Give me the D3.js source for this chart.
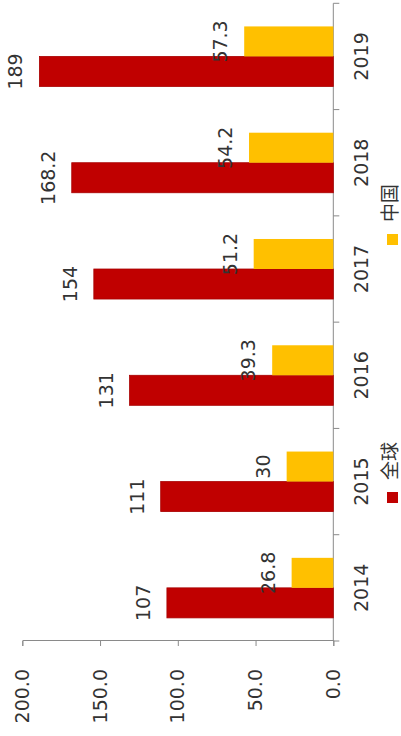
<!DOCTYPE html>
<html>
<head>
<meta charset="utf-8">
<script src="https://cdn.jsdelivr.net/npm/d3@7"></script>
<style>
  html, body { margin: 0; padding: 0; background: #fff; }
  svg { display: block; }
  text { font-family: "DejaVu Sans", sans-serif; fill: #333; }
  .cjk { font-family: "Noto Sans CJK SC", "DejaVu Sans", sans-serif; }
</style>
</head>
<body>
<script>
// Annual values, global vs. China
const years = ["2014", "2015", "2016", "2017", "2018", "2019"];
const globalValues = [107, 111, 131, 154, 168.2, 189];
const chinaValues = [26.8, 30, 39.3, 51.2, 54.2, 57.3];
const seriesNames = ["全球", "中国"];
const seriesColors = ["#c00000", "#ffc000"];
const valueTicks = [0, 50, 100, 150, 200];

const W = 401, H = 736;
const svg = d3.select("body").append("svg").attr("width", W).attr("height", H);

// The chart is laid out as an ordinary column chart (width H, height W)
// and then turned a quarter turn counter-clockwise.
const g = svg.append("g").attr("transform", `translate(0,${H}) rotate(-90)`);

const x0 = d3.scaleBand().domain(years).range([95, 732.7]).padding(0);
const x1 = d3.scaleBand().domain(seriesNames).range([0, x0.bandwidth()]).paddingInner(0).paddingOuter(0.77);
const y = d3.scaleLinear().domain([0, 200]).range([333.3, 22.3]);

const axisColor = "#8a8a8a";

// value axis
const yAxis = g.append("g")
  .attr("transform", `translate(${x0.range()[0]},0)`)
  .call(d3.axisLeft(y).tickValues(valueTicks).tickFormat(d3.format(".1f")).tickSize(5).tickPadding(23));
yAxis.selectAll("path, line").attr("stroke", axisColor);
yAxis.selectAll("text").attr("font-size", 19).attr("font-family", "DejaVu Sans").attr("fill", "#333");

// category axis: line with ticks at band boundaries
const catAxis = g.append("g");
catAxis.append("line")
  .attr("x1", x0.range()[0]).attr("x2", x0.range()[1])
  .attr("y1", y(0)).attr("y2", y(0))
  .attr("stroke", axisColor);
const bounds = years.map(d => x0(d)).concat([x0(years[years.length - 1]) + x0.bandwidth()]);
catAxis.selectAll("line.tick").data(bounds).join("line")
  .attr("class", "tick")
  .attr("x1", d => d).attr("x2", d => d)
  .attr("y1", y(0)).attr("y2", y(0) + 6)
  .attr("stroke", axisColor);
catAxis.selectAll("text").data(years).join("text")
  .attr("x", d => x0(d) + x0.bandwidth() / 2)
  .attr("y", 368)
  .attr("text-anchor", "middle")
  .attr("font-size", 19)
  .text(d => d);

// bars
const rows = years.map((yr, i) => ({ year: yr, values: [globalValues[i], chinaValues[i]] }));
const groups = g.selectAll("g.yr").data(rows).join("g")
  .attr("class", "yr")
  .attr("transform", d => `translate(${x0(d.year)},0)`);

groups.selectAll("rect").data(d => d.values.map((v, k) => ({ v, k }))).join("rect")
  .attr("x", d => x1(seriesNames[d.k]))
  .attr("width", x1.bandwidth())
  .attr("y", d => y(d.v))
  .attr("height", d => y(0) - y(d.v))
  .attr("fill", d => seriesColors[d.k])
  .attr("stroke", d => d.k === 0 ? "#a80000" : "none")
  .attr("stroke-width", 0.8);

// value labels above each bar
groups.selectAll("text").data(d => d.values.map((v, k) => ({ v, k }))).join("text")
  .attr("x", d => x1(seriesNames[d.k]) + x1.bandwidth() / 2)
  .attr("y", d => y(d.v) - 17)
  .attr("text-anchor", "middle")
  .attr("font-size", 19)
  .text(d => String(d.v));

// legend
const legendX = [233, 491];
const legend = g.selectAll("g.legend").data(seriesNames).join("g")
  .attr("class", "legend")
  .attr("transform", (d, i) => `translate(${legendX[i]},0)`);
legend.append("rect")
  .attr("x", 0).attr("y", 387)
  .attr("width", 11).attr("height", 11)
  .attr("fill", (d, i) => seriesColors[i]);
legend.append("text")
  .attr("class", "cjk")
  .attr("x", 23).attr("y", 397)
  .attr("font-size", 19)
  .text(d => d);
</script>
</body>
</html>
